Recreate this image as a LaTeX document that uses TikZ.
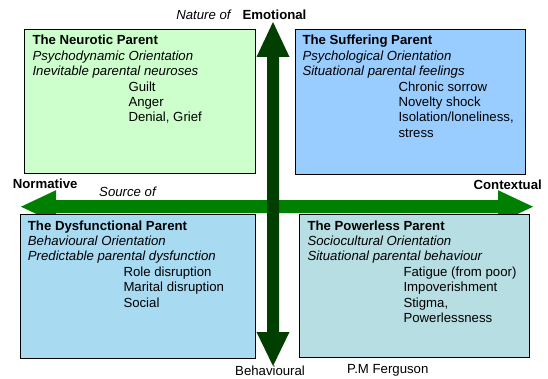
\documentclass[tikz,border=0pt]{standalone}
\usepackage{fontspec}
\setmainfont{Liberation Sans}
\definecolor{cneur}{HTML}{CCFFCC}
\definecolor{csuff}{HTML}{99CCFF}
\definecolor{cdysf}{HTML}{A8DAF2}
\definecolor{cpowl}{HTML}{B7DEE2}
\definecolor{vgreen}{HTML}{003F00}
\definecolor{hgreen}{HTML}{008000}
\begin{document}
\begin{tikzpicture}[x=1pt,y=-1pt,
  font=\fontsize{13.2pt}{15.4pt}\selectfont,
  quadbox/.style={draw=black, line width=1.4pt, anchor=north west, inner sep=0pt},
  quadtext/.style={anchor=base west, inner sep=0pt},
  axislabel/.style={inner sep=0pt}]
\useasboundingbox (0,0) rectangle (548,379);
% horizontal arrow (under boxes)
\fill[hgreen] (21,206.7) -- (56,190.2) -- (56,200.2) -- (498,200.2) -- (498,190.2)
  -- (533,206.7) -- (498,223.2) -- (498,213.2) -- (56,213.2) -- (56,223.2) -- cycle;
% boxes
\node[quadbox, fill=cneur, minimum width=231pt, minimum height=144pt] (b1) at (24,29) {};
\node[quadbox, fill=csuff, minimum width=230pt, minimum height=145pt] (b2) at (295,29) {};
\node[quadbox, fill=cdysf, minimum width=235pt, minimum height=144pt] (b3) at (20,214) {};
\node[quadbox, fill=cpowl, minimum width=230pt, minimum height=143pt] (b4) at (299,214) {};
% vertical arrow
\fill[vgreen] (273,22) -- (289.5,57) -- (279,57) -- (279,332) -- (289.5,332) -- (273,366)
  -- (256.5,332) -- (267,332) -- (267,57) -- (256.5,57) -- cycle;
% box texts
\node[quadtext] (t1) at (32.3,45) {\parbox[t]{225pt}{\raggedright
  \textbf{The Neurotic Parent}\\
  \textit{Psychodynamic Orientation}\\
  \textit{Inevitable parental neuroses}\\
  \hspace*{96pt}Guilt\\
  \hspace*{96pt}Anger\\
  \hspace*{96pt}Denial, Grief}};
\node[quadtext] (t2) at (302.3,45) {\parbox[t]{225pt}{\raggedright
  \textbf{The Suffering Parent}\\
  \textit{Psychological Orientation}\\
  \textit{Situational parental feelings}\\
  \hspace*{96pt}Chronic sorrow\\
  \hspace*{96pt}Novelty shock\\
  \hspace*{96pt}Isolation/loneliness,\\
  \hspace*{96pt}stress}};
\node[quadtext] (t3) at (27.7,230) {\parbox[t]{225pt}{\raggedright
  \textbf{The Dysfunctional Parent}\\
  \textit{Behavioural Orientation}\\
  \textit{Predictable parental dysfunction}\\
  \hspace*{95.6pt}Role disruption\\
  \hspace*{95.6pt}Marital disruption\\
  \hspace*{95.6pt}Social}};
\node[quadtext] (t4) at (307.3,230) {\parbox[t]{225pt}{\raggedright
  \textbf{The Powerless Parent}\\
  \textit{Sociocultural Orientation}\\
  \textit{Situational parental behaviour}\\
  \hspace*{96pt}Fatigue (from poor)\\
  \hspace*{96pt}Impoverishment\\
  \hspace*{96pt}Stigma,\\
  \hspace*{96pt}Powerlessness}};
% axis labels
\node[axislabel, anchor=base] (emo) at (274.5,20) {\textbf{Emotional}};
\node[axislabel, anchor=base east] (nat) at (232,20) {\textit{Nature of}};
\node[axislabel, anchor=base west] (norm) at (12.7,188.3) {\textbf{Normative}};
\node[axislabel, anchor=base west] (src) at (99,197) {\textit{Source of}};
\node[axislabel, anchor=base east] (ctx) at (542,190) {\textbf{Contextual}};
\node[axislabel, anchor=base west] (beh) at (235,375) {Behavioural};
\node[axislabel, anchor=base west] (auth) at (347,373) {P.M Ferguson};
\end{tikzpicture}
\end{document}
